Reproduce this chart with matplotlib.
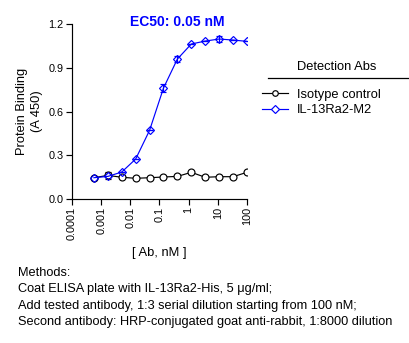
import matplotlib.pyplot as plt
from matplotlib.lines import Line2D
import numpy as np

plt.rcParams['font.family'] = ['Liberation Sans', 'DejaVu Sans']

# 1:3 serial dilution starting from 100 nM
conc = 100 / 3.0 ** np.arange(11, -1, -1)

isotype = [0.146, 0.162, 0.149, 0.142, 0.146, 0.151, 0.155, 0.183, 0.149, 0.153, 0.153, 0.183]
isotype_err = [0.0, 0.022, 0.0, 0.0, 0.0, 0.0, 0.0, 0.0, 0.0, 0.0, 0.0, 0.0]
m2 = [0.146, 0.155, 0.185, 0.274, 0.471, 0.761, 0.960, 1.063, 1.083, 1.097, 1.090, 1.081]
m2_err = [0.0, 0.0, 0.0, 0.0, 0.0, 0.025, 0.02, 0.0, 0.0, 0.02, 0.0, 0.0]

xticks = [1e-4, 1e-3, 1e-2, 1e-1, 1, 10, 100]
xticklabels = ['0.0001', '0.001', '0.01', '0.1', '1', '10', '100']
yticks = [0.0, 0.3, 0.6, 0.9, 1.2]

BLUE = '#0000ff'

fig = plt.figure(figsize=(4.1, 3.43), dpi=100)
ax = fig.add_axes([0.1756, 0.4198, 0.4268, 0.5102])

ax.errorbar(conc, isotype, yerr=isotype_err, color='black', lw=0.85,
            marker='o', ms=5, mfc='white', mew=0.85, capsize=2, elinewidth=0.85)
ax.errorbar(conc, m2, yerr=m2_err, color=BLUE, lw=0.85,
            marker='D', ms=4.5, mfc='none', mew=0.85, capsize=2, elinewidth=0.85)

ax.set_xscale('log')
ax.set_xlim(1e-4, 100)
ax.set_ylim(0, 1.2)
ax.set_xticks(xticks)
ax.set_xticklabels(xticklabels, rotation=90)
ax.minorticks_off()
ax.set_yticks(yticks)
ax.set_yticklabels([f'{v:.1f}' for v in yticks])
ax.tick_params(labelsize=7.8, direction='out', length=4, width=0.85, pad=2)
for side in ('top', 'right'):
    ax.spines[side].set_visible(False)
for side in ('left', 'bottom'):
    ax.spines[side].set_linewidth(0.85)

ax.set_ylabel('Protein Binding\n(A 450)', fontsize=9.3, labelpad=4, linespacing=1.35)
ax.set_xlabel('[ Ab, nM ]', fontsize=9.3, labelpad=5)
fig.text(177 / 410, 1 - 22 / 343, 'EC50: 0.05 nM', color=BLUE, fontsize=10,
         fontweight='bold', ha='center', va='center')

# legend block on the right
handles = [
    Line2D([], [], color='black', lw=0.85, marker='o', ms=4, mfc='white', mew=0.85),
    Line2D([], [], color=BLUE, lw=0.85, marker='D', ms=3.6, mfc='white', mew=0.85),
]
fig.legend(handles, ['Isotype control', 'IL-13Ra2-M2'], loc='upper left',
           bbox_to_anchor=(262 / 410, 1 - 88.5 / 343), frameon=False, fontsize=9.3,
           handlelength=2.0, handletextpad=0.7, labelspacing=0.3, borderpad=0,
           borderaxespad=0)
fig.text(337 / 410, 1 - 67 / 343, 'Detection Abs', ha='center', va='center', fontsize=9.3)
fig.add_artist(Line2D([268 / 410, 1.0], [1 - 78 / 343, 1 - 78 / 343], color='black',
                      lw=0.9, transform=fig.transFigure))

methods = ['Methods:',
           'Coat ELISA plate with IL-13Ra2-His, 5 \u03bcg/ml;',
           'Add tested antibody, 1:3 serial dilution starting from 100 nM;',
           'Second antibody: HRP-conjugated goat anti-rabbit, 1:8000 dilution']
for i, line in enumerate(methods):
    fig.text(0.044, 1 - (273 + 16.3 * i) / 343, line, fontsize=9.2, va='center')

fig.savefig('out.png', dpi=100)
